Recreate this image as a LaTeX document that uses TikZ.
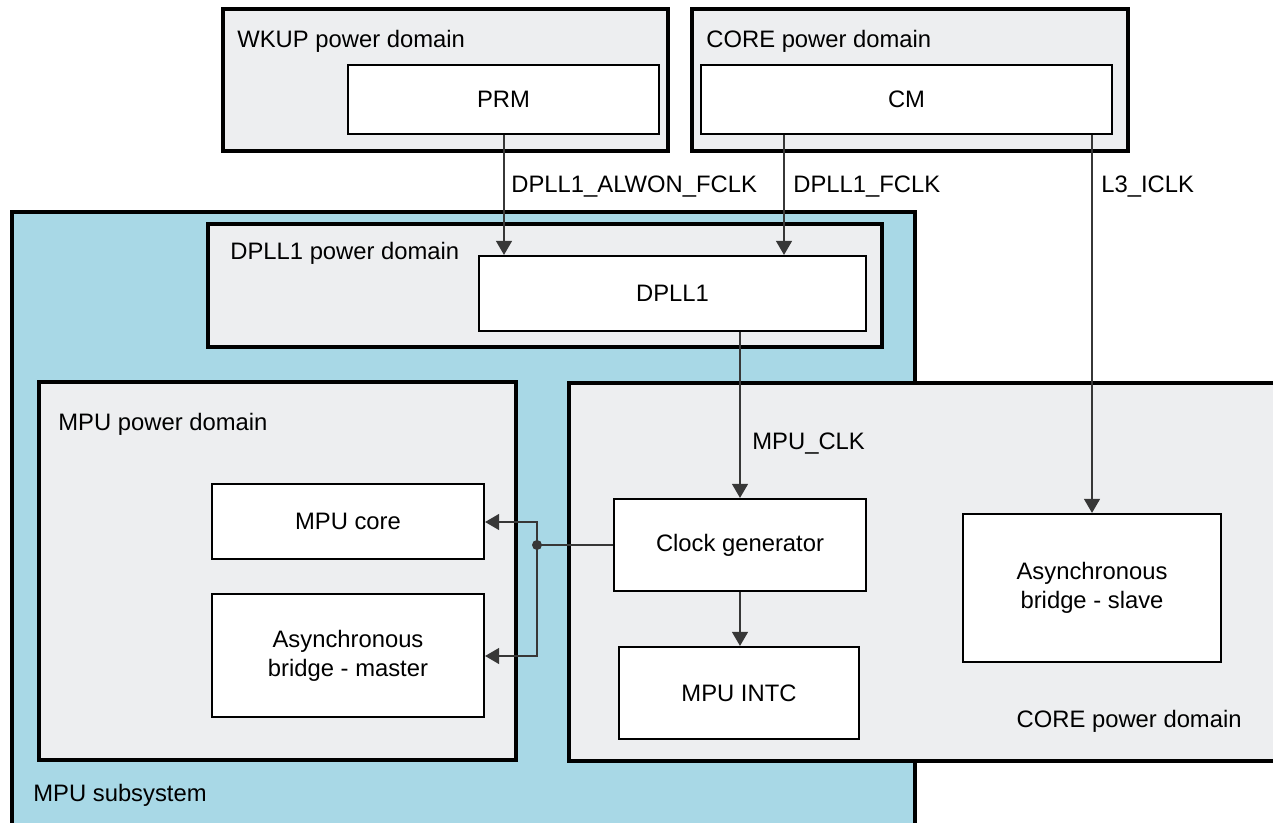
\documentclass[tikz,border=0pt]{standalone}
\usepackage{fontspec}
\setmainfont{Liberation Sans}
\usetikzlibrary{fit,arrows.meta}
\definecolor{mpublue}{RGB}{168,216,230}
\definecolor{domgray}{RGB}{237,238,240}
\definecolor{wire}{RGB}{55,55,55}
\begin{document}
\begin{tikzpicture}[x=0.5pt,y=-0.5pt,
  font=\fontsize{11.9}{14.5}\selectfont,
  domainbox/.style={draw, line width=1.6pt, fill=domgray, inner sep=0pt},
  subsys/.style={draw, line width=1.6pt, fill=mpublue, inner sep=0pt},
  block/.style={draw, line width=1.1pt, fill=white, inner sep=0pt},
  btext/.style={align=center, inner sep=0pt},
  sig/.style={draw=wire, line width=0.6pt, -{Triangle[length=7pt,width=8pt]}},
  wireline/.style={draw=wire, line width=0.6pt},
  lbl/.style={anchor=base west, inner sep=0pt}]
\useasboundingbox (0,0) rectangle (1273,823);
\clip (0,0) rectangle (1273,823);

% MPU subsystem
\node[subsys, fit={(12,212)(915,850)}] (mpusub) {};
\node[lbl] (mpusublbl) at (33,801) {MPU subsystem};

% top domains
\node[domainbox, fit={(223,9)(668,151)}] (wkup) {};
\node[lbl] (wkuplbl) at (237,48) {WKUP power domain};
\node[block, fit={(348,65)(659,134)}] (prm) {};
\node[btext] (prmt) at (prm.center) {PRM};

\node[domainbox, fit={(692,9)(1128,151)}] (coretop) {};
\node[lbl] (coretoplbl) at (706,48) {CORE power domain};
\node[block, fit={(701,65)(1112,134)}] (cm) {};
\node[btext] (cmt) at (cm.center) {CM};

% DPLL1 domain
\node[domainbox, fit={(208,224)(882,347)}] (dplldom) {};
\node[lbl] (dplldomlbl) at (230,260) {DPLL1 power domain};
\node[block, fit={(479,256)(866,331)}] (dpll) {};
\node[btext] (dpllt) at (dpll.center) {DPLL1};

% MPU power domain
\node[domainbox, fit={(39,382)(516,760)}] (mpudom) {};
\node[lbl] (mpudomlbl) at (58,430) {MPU power domain};
\node[block, fit={(212,484)(484,559)}] (mpucore) {};
\node[btext] (mpucoret) at (mpucore.center) {MPU core};
\node[block, fit={(212,594)(484,717)}] (master) {};
\node[btext] (mastert) at (master.center) {Asynchronous\\bridge - master};

% CORE lower domain
\node[domainbox, fit={(569,383)(1300,761)}] (corelow) {};
\node[anchor=base east, inner sep=0pt] (corelowlbl) at (1242,727) {CORE power domain};
\node[block, fit={(614,499)(866,591)}] (clkgen) {};
\node[btext] (clkgent) at (clkgen.center) {Clock generator};
\node[block, fit={(619,647)(859,739)}] (intc) {};
\node[btext] (intct) at (intc.center) {MPU INTC};
\node[block, fit={(963,514)(1221,662)}] (slave) {};
\node[btext] (slavet) at (slave.center) {Asynchronous\\bridge - slave};

% signals
\coordinate (xa) at (504,0);
\coordinate (xb) at (784,0);
\coordinate (xc) at (1092,0);
\draw[sig] (xa |- prm.south) -- (xa |- dpll.north);
\draw[sig] (xb |- cm.south) -- (xb |- dpll.north);
\draw[sig] (xc |- cm.south) -- (xc |- slave.north);
\draw[sig] (clkgen.north |- dpll.south) -- (clkgen.north);
\draw[sig] (clkgen.south) -- (clkgen.south |- intc.north);

\node[lbl] (l1) at (511,193) {DPLL1\_ALWON\_FCLK};
\node[lbl] (l2) at (793,193) {DPLL1\_FCLK};
\node[lbl] (l3) at (1101,193) {L3\_ICLK};
\node[lbl] (l4) at (752,449) {MPU\_CLK};

% clock distribution
\coordinate (junc) at (537,545);
\coordinate (jtop) at (537,522);
\coordinate (jbot) at (537,656);
\draw[wireline] (clkgen.west |- junc) -- (junc);
\draw[sig] (junc) -- (jtop) -- (mpucore.east |- jtop);
\draw[sig] (junc) -- (jbot) -- (master.east |- jbot);
\fill[wire] (junc) circle (2.5pt);
\end{tikzpicture}
\end{document}
